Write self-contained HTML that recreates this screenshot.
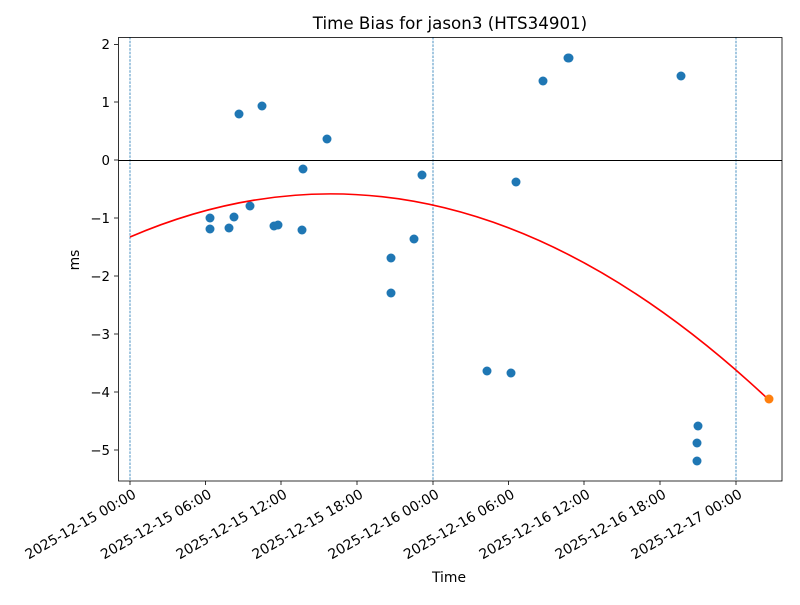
<!DOCTYPE html>
<html><head><meta charset="utf-8"><style>
body{margin:0;background:#fff}
svg text{font-family:"DejaVu Sans","Liberation Sans",sans-serif;fill:#000}
</style></head><body>
<svg width="800" height="600" viewBox="0 0 800 600" xmlns="http://www.w3.org/2000/svg">
<rect width="800" height="600" fill="#fff"/>
<text x="450" y="29" font-size="16.7" text-anchor="middle">Time Bias for jason3 (HTS34901)</text>
<g stroke="#1f77b4" stroke-width="0.8" stroke-dasharray="2.5,1.2">
<line x1="130" y1="37" x2="130" y2="481"/>
<line x1="433" y1="37" x2="433" y2="481"/>
<line x1="736" y1="37" x2="736" y2="481"/>
</g>
<line x1="118" y1="160.5" x2="782" y2="160.5" stroke="#000" stroke-width="1"/>
<g fill="#1f77b4">
<circle cx="210" cy="218" r="4.5"/><circle cx="210" cy="229" r="4.5"/><circle cx="229" cy="228" r="4.5"/>
<circle cx="234" cy="217" r="4.5"/><circle cx="239" cy="114" r="4.5"/><circle cx="250" cy="206" r="4.5"/>
<circle cx="262" cy="106" r="4.5"/><circle cx="274" cy="226" r="4.5"/><circle cx="278" cy="225" r="4.5"/>
<circle cx="302" cy="230" r="4.5"/><circle cx="303" cy="169" r="4.5"/><circle cx="327" cy="139" r="4.5"/>
<circle cx="391" cy="258" r="4.5"/><circle cx="391" cy="293" r="4.5"/><circle cx="414" cy="239" r="4.5"/>
<circle cx="422" cy="175" r="4.5"/><circle cx="487" cy="371" r="4.5"/><circle cx="511" cy="373" r="4.5"/>
<circle cx="516" cy="182" r="4.5"/><circle cx="543" cy="81" r="4.5"/><circle cx="568" cy="58" r="4.5"/>
<circle cx="569" cy="58" r="4.5"/><circle cx="681" cy="76" r="4.5"/><circle cx="698" cy="426" r="4.5"/>
<circle cx="697" cy="443" r="4.5"/><circle cx="697" cy="461" r="4.5"/>
</g>
<path d="M130,237 Q449.5,99.6 769,400" fill="none" stroke="#ff0000" stroke-width="1.6"/>
<circle cx="769" cy="399" r="4.5" fill="#ff7f0e"/>
<rect x="118.5" y="37.5" width="663.5" height="443.5" fill="none" stroke="#000" stroke-width="0.8"/>
<g stroke="#000" stroke-width="0.8">
<line x1="114" y1="44.5" x2="118" y2="44.5"/><line x1="114" y1="102" x2="118" y2="102"/>
<line x1="114" y1="160" x2="118" y2="160"/><line x1="114" y1="218" x2="118" y2="218"/>
<line x1="114" y1="276" x2="118" y2="276"/><line x1="114" y1="334" x2="118" y2="334"/>
<line x1="114" y1="392" x2="118" y2="392"/><line x1="114" y1="450" x2="118" y2="450"/>
<line x1="130" y1="481" x2="130" y2="485"/><line x1="205.5" y1="481" x2="205.5" y2="485"/>
<line x1="281" y1="481" x2="281" y2="485"/><line x1="357" y1="481" x2="357" y2="485"/>
<line x1="433" y1="481" x2="433" y2="485"/><line x1="508.5" y1="481" x2="508.5" y2="485"/>
<line x1="584" y1="481" x2="584" y2="485"/><line x1="660" y1="481" x2="660" y2="485"/>
<line x1="736" y1="481" x2="736" y2="485"/>
</g>
<g font-size="13.3" text-anchor="end">
<text x="110" y="49">2</text><text x="110" y="107">1</text><text x="110" y="165">0</text>
<text x="110" y="223">−1</text><text x="110" y="281">−2</text><text x="110" y="339">−3</text>
<text x="110" y="397">−4</text><text x="110" y="455">−5</text>
</g>
<g font-size="13.9" text-anchor="end">
<text transform="translate(137,497) rotate(-30)">2025-12-15 00:00</text>
<text transform="translate(212.5,497) rotate(-30)">2025-12-15 06:00</text>
<text transform="translate(288,497) rotate(-30)">2025-12-15 12:00</text>
<text transform="translate(364,497) rotate(-30)">2025-12-15 18:00</text>
<text transform="translate(440,497) rotate(-30)">2025-12-16 00:00</text>
<text transform="translate(515.5,497) rotate(-30)">2025-12-16 06:00</text>
<text transform="translate(591,497) rotate(-30)">2025-12-16 12:00</text>
<text transform="translate(667,497) rotate(-30)">2025-12-16 18:00</text>
<text transform="translate(743,497) rotate(-30)">2025-12-17 00:00</text>
</g>
<text x="449" y="582" font-size="13.9" text-anchor="middle">Time</text>
<text transform="translate(79,260) rotate(-90)" font-size="13.9" text-anchor="middle">ms</text>
</svg>
</body></html>
